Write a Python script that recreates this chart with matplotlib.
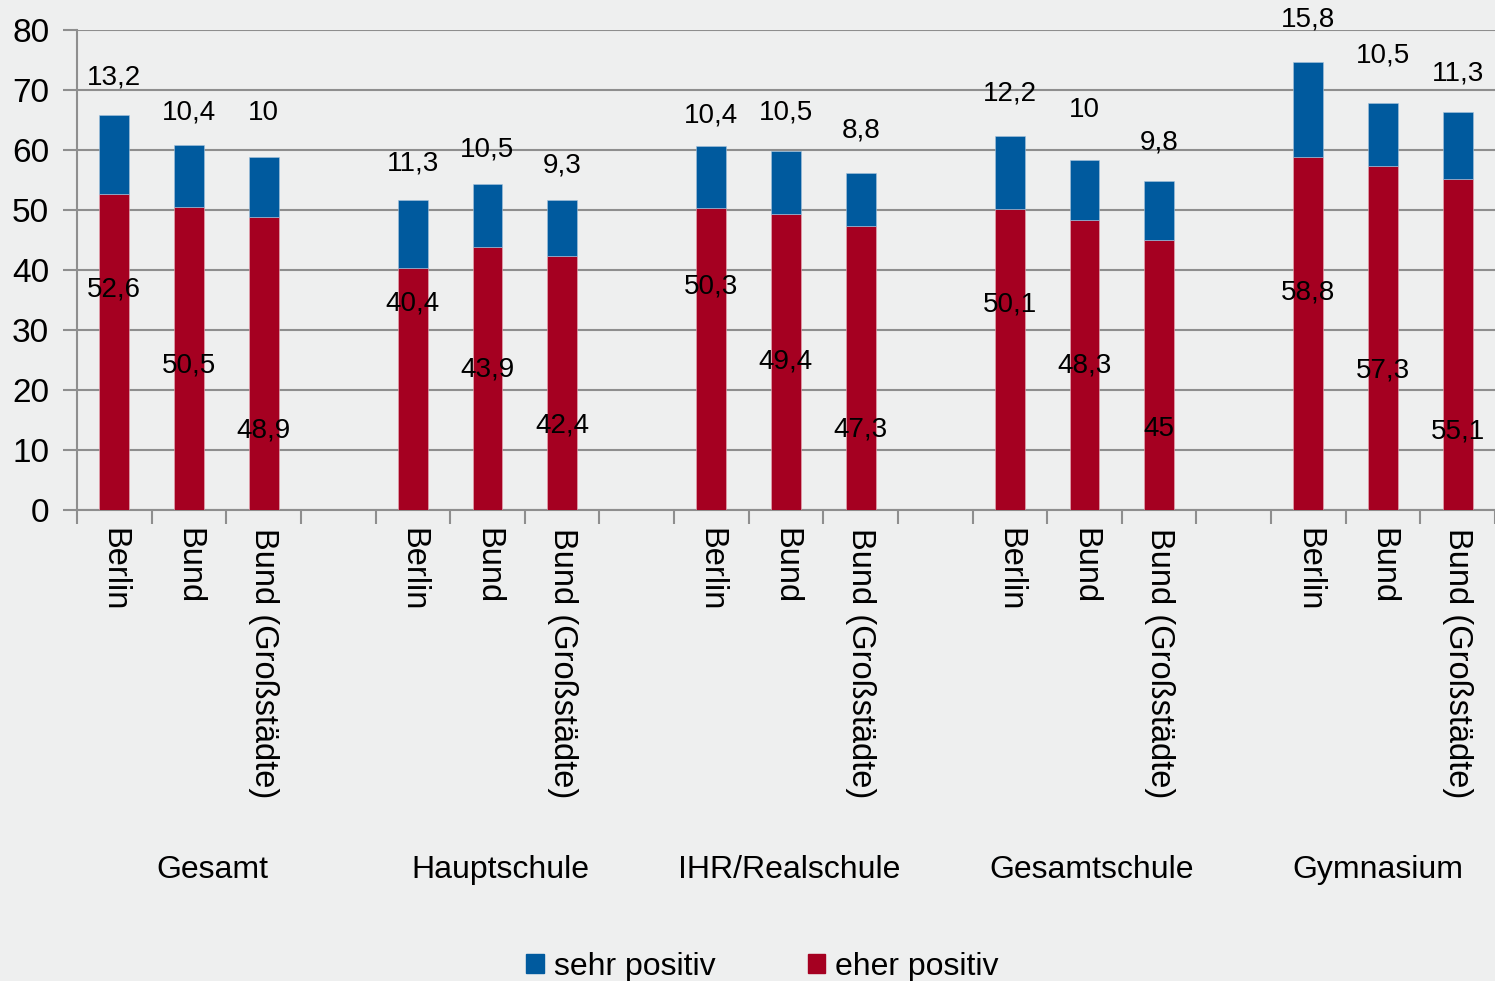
import matplotlib
matplotlib.use("Agg")
import matplotlib.pyplot as plt
from matplotlib.patches import Patch
from matplotlib.ticker import FixedLocator, NullFormatter

plt.rcParams['font.family'] = ['Liberation Sans', 'DejaVu Sans']

groups = ["Gesamt", "Hauptschule", "IHR/Realschule", "Gesamtschule", "Gymnasium"]
sub_labels = ["Berlin", "Bund", "Bund (Großstädte)"]
eher_positiv = [52.6, 50.5, 48.9, 40.4, 43.9, 42.4, 50.3, 49.4, 47.3, 50.1, 48.3, 45.0, 58.8, 57.3, 55.1]
sehr_positiv = [13.2, 10.4, 10.0, 11.3, 10.5, 9.3, 10.4, 10.5, 8.8, 12.2, 10.0, 9.8, 15.8, 10.5, 11.3]
eher_labels = ["52,6", "50,5", "48,9", "40,4", "43,9", "42,4", "50,3", "49,4", "47,3", "50,1", "48,3", "45", "58,8", "57,3", "55,1"]
sehr_labels = ["13,2", "10,4", "10", "11,3", "10,5", "9,3", "10,4", "10,5", "8,8", "12,2", "10", "9,8", "15,8", "10,5", "11,3"]
# label anchor heights (data units), as placed in the original chart
eher_label_y = [36.7, 24.0, 13.3, 34.5, 23.5, 14.0, 37.2, 24.7, 13.5, 34.3, 24.0, 13.5, 36.2, 23.2, 13.0]
sehr_label_y = [72.0, 66.2, 66.2, 57.8, 60.0, 57.5, 65.8, 66.2, 63.2, 69.5, 66.7, 61.3, 81.7, 75.8, 72.8]
# group label centres (in slot units)
group_label_x = [1.31, 5.17, 9.04, 13.09, 16.93]

BLUE = "#005A9E"
RED = "#A50021"
BG = "#EEEFEF"
GRID = "#8E8E8E"

fig = plt.figure(figsize=(14.95, 9.81), dpi=100, facecolor=BG)
ax = fig.add_axes([77/1495, 1-510/981, 1-77/1495, 480/981], facecolor=BG)

xs = []
for g in range(len(groups)):
    for s in range(3):
        xs.append(g*4 + s)

ax.bar(xs, eher_positiv, width=0.4, color=RED, edgecolor="#e8b0bb", linewidth=0.4, zorder=3)
ax.bar(xs, sehr_positiv, bottom=eher_positiv, width=0.4, color=BLUE, edgecolor="#a8c4dc", linewidth=0.4, zorder=3)

for x, y, t in zip(xs, eher_label_y, eher_labels):
    ax.text(x, y, t, ha="center", va="center", fontsize=20, color="black", zorder=5)
for x, y, t in zip(xs, sehr_label_y, sehr_labels):
    ax.text(x, y, t, ha="center", va="center", fontsize=20, color="black", zorder=5, clip_on=False)

ax.set_xlim(-0.5, 18.5)
ax.set_ylim(0, 80)
ax.set_yticks(range(0, 81, 10))
ax.tick_params(axis="y", length=10, width=1.5, color=GRID, labelsize=24, pad=10)
ax.yaxis.grid(True, color=GRID, linewidth=1.5, zorder=0)
ax.set_axisbelow(True)

ax.set_xticks(xs)
ax.set_xticklabels(sub_labels * len(groups), rotation=-90, fontsize=23.5, va="top", ha="center")
ax.tick_params(axis="x", which="major", length=0, pad=13)
ax.xaxis.set_minor_locator(FixedLocator([i - 0.5 for i in range(20)]))
ax.xaxis.set_minor_formatter(NullFormatter())
ax.tick_params(axis="x", which="minor", length=10, width=1.5, color=GRID)

for sp in ["top", "right"]:
    ax.spines[sp].set_visible(False)
for sp in ["left", "bottom"]:
    ax.spines[sp].set_color(GRID)
    ax.spines[sp].set_linewidth(1.5)

for gx, name in zip(group_label_x, groups):
    ax.text(gx, -60, name, ha="center", va="center", fontsize=23, transform=ax.transData, clip_on=False)

handles = [Patch(color=BLUE, label="sehr positiv"), Patch(color=RED, label="eher positiv")]
fig.legend(handles=handles, loc="lower center", bbox_to_anchor=(0.51, -0.03), ncol=2, frameon=False,
           fontsize=23, handlelength=0.55, handleheight=0.55, handletextpad=0.3, columnspacing=2.9)

fig.savefig("out.png", dpi=100, facecolor=BG)
